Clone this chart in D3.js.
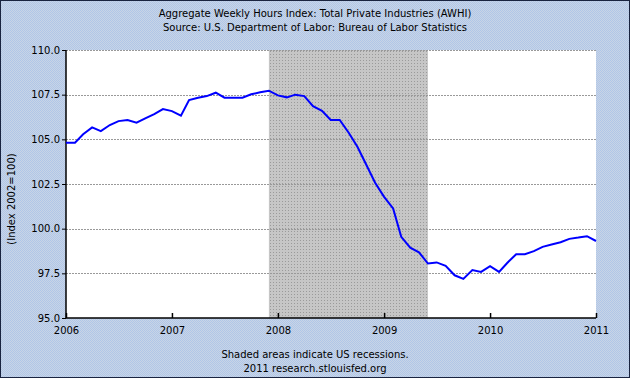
<!DOCTYPE html>
<html>
<head>
<meta charset="utf-8">
<script src="https://cdn.jsdelivr.net/npm/d3@7"></script>
<style>
body { margin: 0; padding: 0; }
text { font-family: 'DejaVu Sans', Verdana, sans-serif; font-size: 10px; fill: #000; }
</style>
</head>
<body>
<div id="chart"></div>
<script>
var w = 630;
var h = 378;

// chart data, monthly
var start_month = '2006-01';
var awhi_values = [
	104.81, 104.81, 105.28, 105.67, 105.46, 105.80, 106.02, 106.08, 105.93, 106.17, 106.41, 106.69,
	106.58, 106.32, 107.20, 107.33, 107.42, 107.61, 107.33, 107.33, 107.33, 107.52, 107.63, 107.72,
	107.46, 107.35, 107.50, 107.42, 106.86, 106.60, 106.08, 106.08, 105.37, 104.58, 103.56, 102.57,
	101.78, 101.13, 99.54, 98.94, 98.68, 98.05, 98.11, 97.92, 97.39, 97.19, 97.68, 97.58,
	97.90, 97.58, 98.08, 98.57, 98.57, 98.74, 98.98, 99.11, 99.24, 99.43, 99.50, 99.58,
	99.31
];
var recessions = [['2007-12', '2009-06']];
var y_ticks = [95, 97.5, 100, 102.5, 105, 107.5, 110];
var x_ticks = ['2006', '2007', '2008', '2009', '2010', '2011'];
var title_lines = ['Aggregate Weekly Hours Index: Total Private Industries (AWHI)',
	'Source: U.S. Department of Labor: Bureau of Labor Statistics'];
var y_label = '(Index 2002=100)';
var footer_lines = ['Shaded areas indicate US recessions.', '2011 research.stlouisfed.org'];

var month_parse = d3.timeParse('%Y-%m');
var year_parse = d3.timeParse('%Y');

var data = awhi_values.map(function(v, i) {
	return {date: d3.timeMonth.offset(month_parse(start_month), i), value: v};
});

var plot_left = 66, plot_right = 596, plot_top = 50, plot_bottom = 318;

var svg = d3.select('#chart').append('svg')
	.attr('width', w)
	.attr('height', h);

var defs = svg.append('defs');
var bg = defs.append('pattern')
	.attr('id', 'bgpat')
	.attr('width', 2).attr('height', 2)
	.attr('patternUnits', 'userSpaceOnUse');
bg.append('rect').attr('width', 2).attr('height', 2).attr('fill', '#c9d5e6');
bg.append('rect').attr('width', 1).attr('height', 1).attr('fill', '#b0c6e8');
bg.append('rect').attr('x', 1).attr('y', 1).attr('width', 1).attr('height', 1).attr('fill', '#b0c6e8');

var rp = defs.append('pattern')
	.attr('id', 'recpat')
	.attr('width', 3).attr('height', 3)
	.attr('patternUnits', 'userSpaceOnUse');
rp.append('rect').attr('width', 3).attr('height', 3).attr('fill', '#c6c6c6');
rp.append('rect').attr('width', 1).attr('height', 1).attr('fill', '#9a9a9a');

// background
svg.append('rect')
	.attr('x', 0).attr('y', 0)
	.attr('width', w).attr('height', h)
	.attr('fill', 'url(#bgpat)');

var x_scale = d3.scaleTime()
	.domain([year_parse('2006'), year_parse('2011')])
	.range([plot_left, plot_right]);

var y_scale = d3.scaleLinear()
	.domain([95, 110])
	.range([plot_bottom, plot_top]);

// plot area
svg.append('rect')
	.attr('x', plot_left).attr('y', plot_top)
	.attr('width', plot_right - plot_left).attr('height', plot_bottom - plot_top)
	.attr('fill', '#fff');

// recession shading
svg.selectAll('.rec')
	.data(recessions)
	.enter()
	.append('rect')
	.attr('class', 'rec')
	.attr('x', function(d) { return x_scale(month_parse(d[0])); })
	.attr('y', plot_top)
	.attr('width', function(d) { return x_scale(month_parse(d[1])) - x_scale(month_parse(d[0])); })
	.attr('height', plot_bottom - plot_top)
	.attr('fill', 'url(#recpat)');

// gridlines
svg.selectAll('.grid')
	.data(y_ticks.filter(function(d) { return d > 95; }))
	.enter()
	.append('line')
	.attr('class', 'grid')
	.attr('x1', plot_left).attr('x2', plot_right)
	.attr('y1', function(d) { return Math.round(y_scale(d)) + 0.5; })
	.attr('y2', function(d) { return Math.round(y_scale(d)) + 0.5; })
	.attr('stroke', '#999')
	.attr('stroke-dasharray', '2,1');

// y axis
var y_axis = d3.axisLeft(y_scale)
	.tickValues(y_ticks)
	.tickSize(4)
	.tickPadding(2)
	.tickFormat(d3.format('.1f'));

var yg = svg.append('g')
	.attr('transform', 'translate(' + plot_left + ',0)')
	.call(y_axis);
yg.select('.domain').attr('stroke', '#000').attr('stroke-width', 1.5).attr('d', 'M0,' + plot_top + 'V' + plot_bottom);
yg.selectAll('text').style('font-family', "'DejaVu Sans', Verdana, sans-serif").style('font-size', '10px').attr('fill', '#000');

// x axis, ticks pointing inward
var x_axis = d3.axisBottom(x_scale)
	.tickValues(x_ticks.map(year_parse))
	.tickSize(-5)
	.tickPadding(9)
	.tickFormat(d3.timeFormat('%Y'));

var xg = svg.append('g')
	.attr('transform', 'translate(0,' + plot_bottom + ')')
	.call(x_axis);
xg.select('.domain').attr('stroke', '#000').attr('stroke-width', 1.5).attr('d', 'M' + plot_left + ',0H' + plot_right);
xg.selectAll('line').attr('stroke-width', 1.5);
xg.selectAll('text').style('font-family', "'DejaVu Sans', Verdana, sans-serif").style('font-size', '10px').attr('fill', '#000');

// data line
var line = d3.line()
	.x(function(d) { return x_scale(d.date); })
	.y(function(d) { return y_scale(d.value); });

svg.append('path')
	.datum(data)
	.attr('fill', 'none')
	.attr('stroke', '#0000ff')
	.attr('stroke-width', 2)
	.attr('d', line);

// titles
svg.selectAll('.title')
	.data(title_lines)
	.enter()
	.append('text')
	.attr('class', 'title')
	.attr('x', w / 2)
	.attr('y', function(d, i) { return 17 + i * 14; })
	.attr('text-anchor', 'middle')
	.text(function(d) { return d; });

svg.append('text')
	.attr('transform', 'translate(15,199) rotate(-90)')
	.attr('text-anchor', 'middle')
	.text(y_label);

svg.selectAll('.footer')
	.data(footer_lines)
	.enter()
	.append('text')
	.attr('class', 'footer')
	.attr('x', w / 2)
	.attr('y', function(d, i) { return 358 + i * 14; })
	.attr('text-anchor', 'middle')
	.text(function(d) { return d; });

// outer border
svg.append('rect')
	.attr('x', 0.5).attr('y', 0.5)
	.attr('width', w - 1).attr('height', h - 1)
	.attr('fill', 'none')
	.attr('stroke', '#1a2440');
</script>
</body>
</html>
